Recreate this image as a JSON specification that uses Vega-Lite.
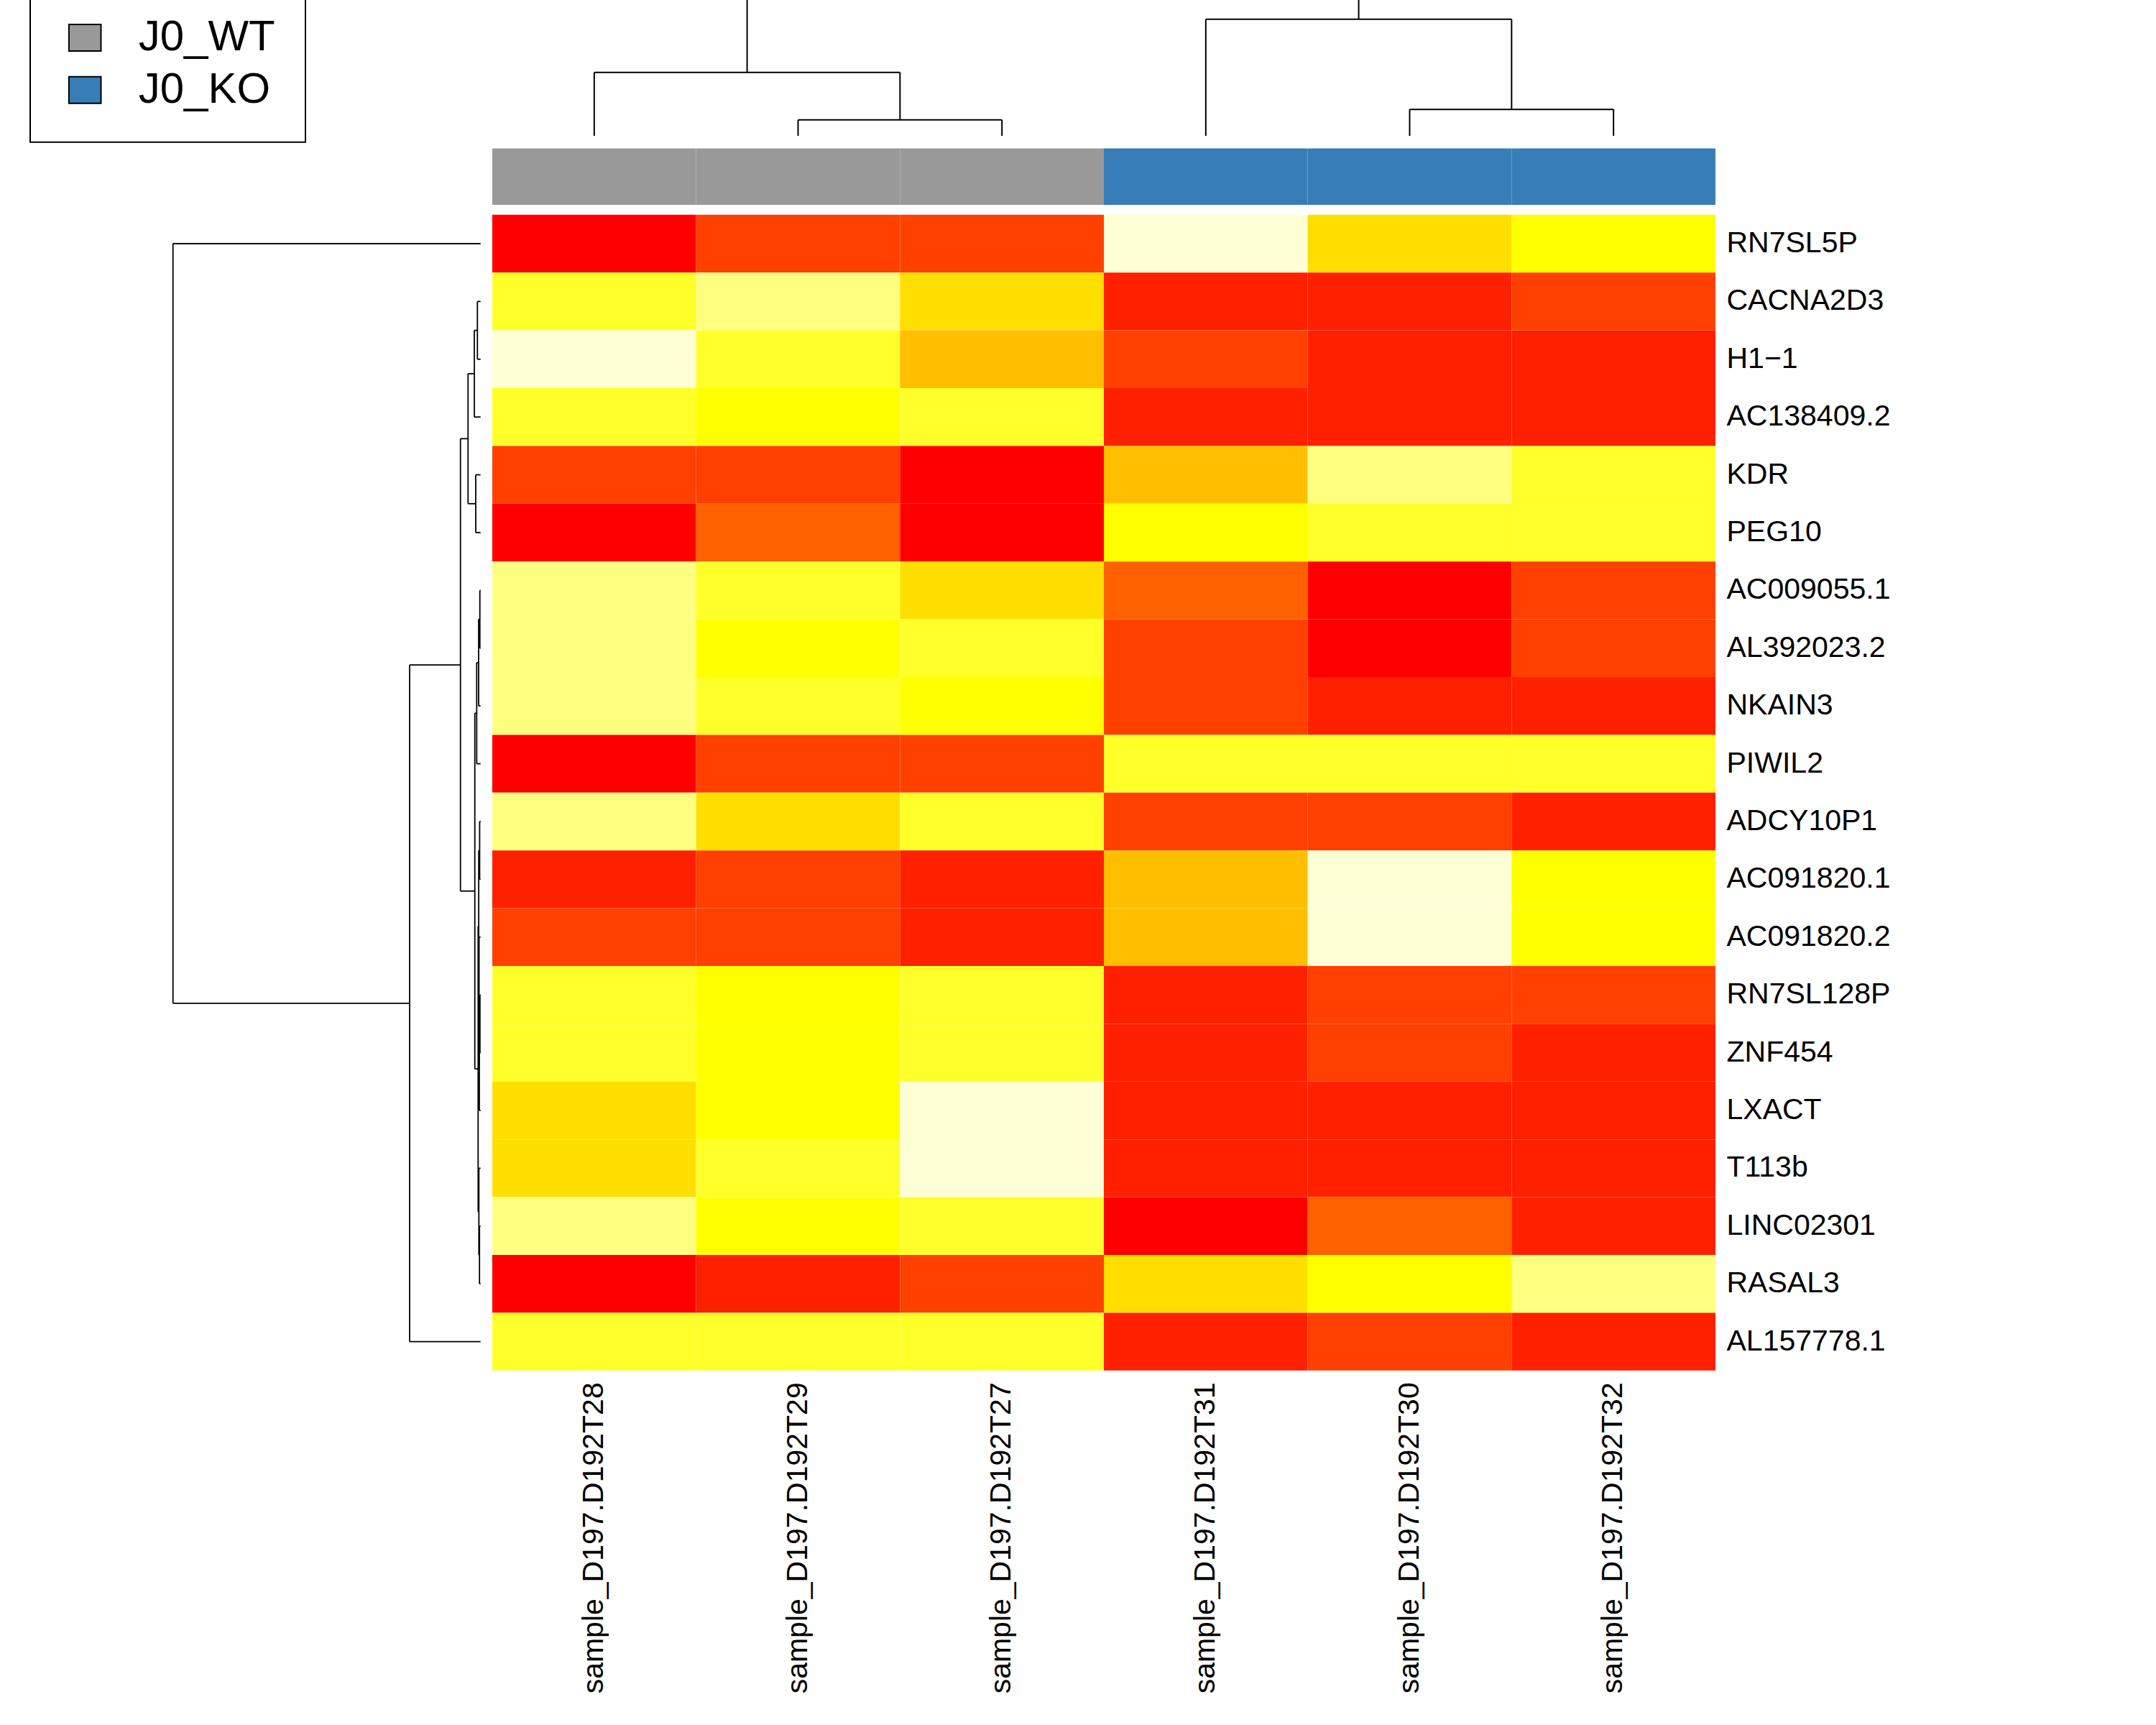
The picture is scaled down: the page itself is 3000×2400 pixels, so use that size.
{
"$schema": "https://vega.github.io/schema/vega-lite/v6.json",
"background": "white",
"padding": {"top": -21, "left": 0, "right": 0, "bottom": 0},
"config": {"view": {"stroke": null}, "font": "Liberation Sans"},
"columns": 2,
"align": "each",
"bounds": "flush",
"spacing": {"row": 13.4, "column": 0},
"resolve": {"scale": {"color": "independent", "x": "independent", "y": "independent"}, "legend": {"color": "independent"}},
"concat": [
{"width": 1, "height": 1, "data": {"values": []}, "mark": "point"},
{
 "width": 1702, "height": 192.3,
 "data": {"values": [
  {"pos":1.75,"pos2":1.75,"h":8.83,"h2":23},
  {"pos":4.75,"pos2":4.75,"h":16.23,"h2":23},
  {"pos":1.75,"pos2":4.75,"h":23,"h2":23},
  {"pos":1,"pos2":2.5,"h":8.83,"h2":8.83},
  {"pos":1,"pos2":1,"h":0,"h2":8.83},
  {"pos":2.5,"pos2":2.5,"h":2.23,"h2":8.83},
  {"pos":2,"pos2":3,"h":2.23,"h2":2.23},
  {"pos":2,"pos2":2,"h":0,"h2":2.23},
  {"pos":3,"pos2":3,"h":0,"h2":2.23},
  {"pos":4,"pos2":5.5,"h":16.23,"h2":16.23},
  {"pos":4,"pos2":4,"h":0,"h2":16.23},
  {"pos":5.5,"pos2":5.5,"h":3.67,"h2":16.23},
  {"pos":5,"pos2":6,"h":3.67,"h2":3.67},
  {"pos":5,"pos2":5,"h":0,"h2":3.67},
  {"pos":6,"pos2":6,"h":0,"h2":3.67}
 ]},
 "mark": {"type": "rule", "clip": true, "color": "black", "strokeWidth": 2},
 "encoding": {
  "x": {"field": "pos", "type": "quantitative", "scale": {"domain": [0.5, 6.5], "nice": false, "zero": false}, "axis": null},
  "x2": {"field": "pos2"},
  "y": {"field": "h", "type": "quantitative", "scale": {"domain": [-0.33, 18.9], "nice": false, "zero": false}, "axis": null},
  "y2": {"field": "h2"}
 }
},
{"width": 1, "height": 1, "data": {"values": []}, "mark": "point"},
{
 "width": 1702, "height": 78.6,
 "data": {"values": [
  {"sample":"sample_D197.D192T28","group":"J0_WT"},
  {"sample":"sample_D197.D192T29","group":"J0_WT"},
  {"sample":"sample_D197.D192T27","group":"J0_WT"},
  {"sample":"sample_D197.D192T31","group":"J0_KO"},
  {"sample":"sample_D197.D192T30","group":"J0_KO"},
  {"sample":"sample_D197.D192T32","group":"J0_KO"}
 ]},
 "mark": {"type": "rect"},
 "encoding": {
  "x": {"field": "sample", "type": "nominal", "sort": ["sample_D197.D192T28","sample_D197.D192T29","sample_D197.D192T27","sample_D197.D192T31","sample_D197.D192T30","sample_D197.D192T32"], "scale": {"paddingInner": 0, "paddingOuter": 0}, "axis": null},
  "color": {"field": "group", "type": "nominal", "scale": {"domain": ["J0_WT","J0_KO"], "range": ["#999999","#377EB8"]},
   "legend": {"orient": "none", "legendX": -643, "legendY": -225.7, "title": null, "padding": 41.7, "strokeColor": "black",
    "symbolType": "M-1,-0.83H1V0.83H-1Z", "symbolSize": 1990, "symbolStrokeColor": "black", "symbolStrokeWidth": 2, "symbolOpacity": 1,
    "labelFontSize": 60, "labelFont": "Liberation Sans", "labelColor": "black", "labelOffset": 44.5, "rowPadding": 12.8, "symbolOffset": 4.5, "labelLimit": 1000,
    "encode": {"legend": {"update": {"strokeWidth": {"value": 2}}}}}}
 }
},
{
 "width": 685, "height": 1608,
 "data": {"values": [
  {"h":10,"h2":10,"pos":1,"pos2":14.1445},{"h":10,"h2":0,"pos":1,"pos2":1},{"h":10,"h2":2.306,"pos":14.1445,"pos2":14.1445},
  {"h":2.306,"h2":2.306,"pos":8.2891,"pos2":20},{"h":2.306,"h2":0.654,"pos":8.2891,"pos2":8.2891},{"h":2.306,"h2":0,"pos":20,"pos2":20},
  {"h":0.654,"h2":0.654,"pos":4.375,"pos2":12.2031},{"h":0.654,"h2":0.407,"pos":4.375,"pos2":4.375},{"h":0.654,"h2":0.187,"pos":12.2031,"pos2":12.2031},
  {"h":0.407,"h2":0.407,"pos":3.25,"pos2":5.5},{"h":0.407,"h2":0.203,"pos":3.25,"pos2":3.25},{"h":0.407,"h2":0.157,"pos":5.5,"pos2":5.5},
  {"h":0.203,"h2":0.203,"pos":2.5,"pos2":4},{"h":0.203,"h2":0.103,"pos":2.5,"pos2":2.5},{"h":0.203,"h2":0,"pos":4,"pos2":4},
  {"h":0.103,"h2":0.103,"pos":2,"pos2":3},{"h":0.103,"h2":0,"pos":2,"pos2":2},{"h":0.103,"h2":0,"pos":3,"pos2":3},
  {"h":0.157,"h2":0.157,"pos":5,"pos2":6},{"h":0.157,"h2":0,"pos":5,"pos2":5},{"h":0.157,"h2":0,"pos":6,"pos2":6},
  {"h":0.187,"h2":0.187,"pos":9.125,"pos2":15.2813},{"h":0.187,"h2":0.126,"pos":9.125,"pos2":9.125},{"h":0.187,"h2":0.079,"pos":15.2813,"pos2":15.2813},
  {"h":0.126,"h2":0.126,"pos":8.25,"pos2":10},{"h":0.126,"h2":0.063,"pos":8.25,"pos2":8.25},{"h":0.126,"h2":0,"pos":10,"pos2":10},
  {"h":0.063,"h2":0.063,"pos":7.5,"pos2":9},{"h":0.063,"h2":0.023,"pos":7.5,"pos2":7.5},{"h":0.063,"h2":0,"pos":9,"pos2":9},
  {"h":0.023,"h2":0.023,"pos":7,"pos2":8},{"h":0.023,"h2":0,"pos":7,"pos2":7},{"h":0.023,"h2":0,"pos":8,"pos2":8},
  {"h":0.079,"h2":0.079,"pos":12.8125,"pos2":17.75},{"h":0.079,"h2":0.06,"pos":12.8125,"pos2":12.8125},{"h":0.079,"h2":0.055,"pos":17.75,"pos2":17.75},
  {"h":0.06,"h2":0.06,"pos":11.5,"pos2":14.125},{"h":0.06,"h2":0.03,"pos":11.5,"pos2":11.5},{"h":0.06,"h2":0.05,"pos":14.125,"pos2":14.125},
  {"h":0.03,"h2":0.03,"pos":11,"pos2":12},{"h":0.03,"h2":0,"pos":11,"pos2":11},{"h":0.03,"h2":0,"pos":12,"pos2":12},
  {"h":0.05,"h2":0.05,"pos":13,"pos2":15.25},{"h":0.05,"h2":0,"pos":13,"pos2":13},{"h":0.05,"h2":0.04,"pos":15.25,"pos2":15.25},
  {"h":0.04,"h2":0.04,"pos":14.5,"pos2":16},{"h":0.04,"h2":0.02,"pos":14.5,"pos2":14.5},{"h":0.04,"h2":0,"pos":16,"pos2":16},
  {"h":0.02,"h2":0.02,"pos":14,"pos2":15},{"h":0.02,"h2":0,"pos":14,"pos2":14},{"h":0.02,"h2":0,"pos":15,"pos2":15},
  {"h":0.055,"h2":0.055,"pos":17,"pos2":18.5},{"h":0.055,"h2":0,"pos":17,"pos2":17},{"h":0.055,"h2":0.035,"pos":18.5,"pos2":18.5},
  {"h":0.035,"h2":0.035,"pos":18,"pos2":19},{"h":0.035,"h2":0,"pos":18,"pos2":18},{"h":0.035,"h2":0,"pos":19,"pos2":19}
 ]},
 "mark": {"type": "rule", "color": "black", "strokeWidth": 1.8},
 "encoding": {
  "x": {"field": "h", "type": "quantitative", "scale": {"domain": [-0.381, 15.624], "reverse": true, "nice": false, "zero": false}, "axis": null},
  "x2": {"field": "h2"},
  "y": {"field": "pos", "type": "quantitative", "scale": {"domain": [0.5, 20.5], "reverse": true, "nice": false, "zero": false}, "axis": null},
  "y2": {"field": "pos2"}
 }
},
{
 "width": 1702, "height": 1608,
 "data": {"values": [
  {"gene":"RN7SL5P","sample":"sample_D197.D192T28","level":1},{"gene":"RN7SL5P","sample":"sample_D197.D192T29","level":3},{"gene":"RN7SL5P","sample":"sample_D197.D192T27","level":3},{"gene":"RN7SL5P","sample":"sample_D197.D192T31","level":12},{"gene":"RN7SL5P","sample":"sample_D197.D192T30","level":8},{"gene":"RN7SL5P","sample":"sample_D197.D192T32","level":9},
  {"gene":"CACNA2D3","sample":"sample_D197.D192T28","level":10},{"gene":"CACNA2D3","sample":"sample_D197.D192T29","level":11},{"gene":"CACNA2D3","sample":"sample_D197.D192T27","level":8},{"gene":"CACNA2D3","sample":"sample_D197.D192T31","level":2},{"gene":"CACNA2D3","sample":"sample_D197.D192T30","level":2},{"gene":"CACNA2D3","sample":"sample_D197.D192T32","level":3},
  {"gene":"H1−1","sample":"sample_D197.D192T28","level":12},{"gene":"H1−1","sample":"sample_D197.D192T29","level":10},{"gene":"H1−1","sample":"sample_D197.D192T27","level":7},{"gene":"H1−1","sample":"sample_D197.D192T31","level":3},{"gene":"H1−1","sample":"sample_D197.D192T30","level":2},{"gene":"H1−1","sample":"sample_D197.D192T32","level":2},
  {"gene":"AC138409.2","sample":"sample_D197.D192T28","level":10},{"gene":"AC138409.2","sample":"sample_D197.D192T29","level":9},{"gene":"AC138409.2","sample":"sample_D197.D192T27","level":10},{"gene":"AC138409.2","sample":"sample_D197.D192T31","level":2},{"gene":"AC138409.2","sample":"sample_D197.D192T30","level":2},{"gene":"AC138409.2","sample":"sample_D197.D192T32","level":2},
  {"gene":"KDR","sample":"sample_D197.D192T28","level":3},{"gene":"KDR","sample":"sample_D197.D192T29","level":3},{"gene":"KDR","sample":"sample_D197.D192T27","level":1},{"gene":"KDR","sample":"sample_D197.D192T31","level":7},{"gene":"KDR","sample":"sample_D197.D192T30","level":11},{"gene":"KDR","sample":"sample_D197.D192T32","level":10},
  {"gene":"PEG10","sample":"sample_D197.D192T28","level":1},{"gene":"PEG10","sample":"sample_D197.D192T29","level":4},{"gene":"PEG10","sample":"sample_D197.D192T27","level":1},{"gene":"PEG10","sample":"sample_D197.D192T31","level":9},{"gene":"PEG10","sample":"sample_D197.D192T30","level":10},{"gene":"PEG10","sample":"sample_D197.D192T32","level":10},
  {"gene":"AC009055.1","sample":"sample_D197.D192T28","level":11},{"gene":"AC009055.1","sample":"sample_D197.D192T29","level":10},{"gene":"AC009055.1","sample":"sample_D197.D192T27","level":8},{"gene":"AC009055.1","sample":"sample_D197.D192T31","level":4},{"gene":"AC009055.1","sample":"sample_D197.D192T30","level":1},{"gene":"AC009055.1","sample":"sample_D197.D192T32","level":3},
  {"gene":"AL392023.2","sample":"sample_D197.D192T28","level":11},{"gene":"AL392023.2","sample":"sample_D197.D192T29","level":9},{"gene":"AL392023.2","sample":"sample_D197.D192T27","level":10},{"gene":"AL392023.2","sample":"sample_D197.D192T31","level":3},{"gene":"AL392023.2","sample":"sample_D197.D192T30","level":1},{"gene":"AL392023.2","sample":"sample_D197.D192T32","level":3},
  {"gene":"NKAIN3","sample":"sample_D197.D192T28","level":11},{"gene":"NKAIN3","sample":"sample_D197.D192T29","level":10},{"gene":"NKAIN3","sample":"sample_D197.D192T27","level":9},{"gene":"NKAIN3","sample":"sample_D197.D192T31","level":3},{"gene":"NKAIN3","sample":"sample_D197.D192T30","level":2},{"gene":"NKAIN3","sample":"sample_D197.D192T32","level":2},
  {"gene":"PIWIL2","sample":"sample_D197.D192T28","level":1},{"gene":"PIWIL2","sample":"sample_D197.D192T29","level":3},{"gene":"PIWIL2","sample":"sample_D197.D192T27","level":3},{"gene":"PIWIL2","sample":"sample_D197.D192T31","level":10},{"gene":"PIWIL2","sample":"sample_D197.D192T30","level":10},{"gene":"PIWIL2","sample":"sample_D197.D192T32","level":10},
  {"gene":"ADCY10P1","sample":"sample_D197.D192T28","level":11},{"gene":"ADCY10P1","sample":"sample_D197.D192T29","level":8},{"gene":"ADCY10P1","sample":"sample_D197.D192T27","level":10},{"gene":"ADCY10P1","sample":"sample_D197.D192T31","level":3},{"gene":"ADCY10P1","sample":"sample_D197.D192T30","level":3},{"gene":"ADCY10P1","sample":"sample_D197.D192T32","level":2},
  {"gene":"AC091820.1","sample":"sample_D197.D192T28","level":2},{"gene":"AC091820.1","sample":"sample_D197.D192T29","level":3},{"gene":"AC091820.1","sample":"sample_D197.D192T27","level":2},{"gene":"AC091820.1","sample":"sample_D197.D192T31","level":7},{"gene":"AC091820.1","sample":"sample_D197.D192T30","level":12},{"gene":"AC091820.1","sample":"sample_D197.D192T32","level":9},
  {"gene":"AC091820.2","sample":"sample_D197.D192T28","level":3},{"gene":"AC091820.2","sample":"sample_D197.D192T29","level":3},{"gene":"AC091820.2","sample":"sample_D197.D192T27","level":2},{"gene":"AC091820.2","sample":"sample_D197.D192T31","level":7},{"gene":"AC091820.2","sample":"sample_D197.D192T30","level":12},{"gene":"AC091820.2","sample":"sample_D197.D192T32","level":9},
  {"gene":"RN7SL128P","sample":"sample_D197.D192T28","level":10},{"gene":"RN7SL128P","sample":"sample_D197.D192T29","level":9},{"gene":"RN7SL128P","sample":"sample_D197.D192T27","level":10},{"gene":"RN7SL128P","sample":"sample_D197.D192T31","level":2},{"gene":"RN7SL128P","sample":"sample_D197.D192T30","level":3},{"gene":"RN7SL128P","sample":"sample_D197.D192T32","level":3},
  {"gene":"ZNF454","sample":"sample_D197.D192T28","level":10},{"gene":"ZNF454","sample":"sample_D197.D192T29","level":9},{"gene":"ZNF454","sample":"sample_D197.D192T27","level":10},{"gene":"ZNF454","sample":"sample_D197.D192T31","level":2},{"gene":"ZNF454","sample":"sample_D197.D192T30","level":3},{"gene":"ZNF454","sample":"sample_D197.D192T32","level":2},
  {"gene":"LXACT","sample":"sample_D197.D192T28","level":8},{"gene":"LXACT","sample":"sample_D197.D192T29","level":9},{"gene":"LXACT","sample":"sample_D197.D192T27","level":12},{"gene":"LXACT","sample":"sample_D197.D192T31","level":2},{"gene":"LXACT","sample":"sample_D197.D192T30","level":2},{"gene":"LXACT","sample":"sample_D197.D192T32","level":2},
  {"gene":"T113b","sample":"sample_D197.D192T28","level":8},{"gene":"T113b","sample":"sample_D197.D192T29","level":10},{"gene":"T113b","sample":"sample_D197.D192T27","level":12},{"gene":"T113b","sample":"sample_D197.D192T31","level":2},{"gene":"T113b","sample":"sample_D197.D192T30","level":2},{"gene":"T113b","sample":"sample_D197.D192T32","level":2},
  {"gene":"LINC02301","sample":"sample_D197.D192T28","level":11},{"gene":"LINC02301","sample":"sample_D197.D192T29","level":9},{"gene":"LINC02301","sample":"sample_D197.D192T27","level":10},{"gene":"LINC02301","sample":"sample_D197.D192T31","level":1},{"gene":"LINC02301","sample":"sample_D197.D192T30","level":4},{"gene":"LINC02301","sample":"sample_D197.D192T32","level":2},
  {"gene":"RASAL3","sample":"sample_D197.D192T28","level":1},{"gene":"RASAL3","sample":"sample_D197.D192T29","level":2},{"gene":"RASAL3","sample":"sample_D197.D192T27","level":3},{"gene":"RASAL3","sample":"sample_D197.D192T31","level":8},{"gene":"RASAL3","sample":"sample_D197.D192T30","level":9},{"gene":"RASAL3","sample":"sample_D197.D192T32","level":11},
  {"gene":"AL157778.1","sample":"sample_D197.D192T28","level":10},{"gene":"AL157778.1","sample":"sample_D197.D192T29","level":10},{"gene":"AL157778.1","sample":"sample_D197.D192T27","level":10},{"gene":"AL157778.1","sample":"sample_D197.D192T31","level":2},{"gene":"AL157778.1","sample":"sample_D197.D192T30","level":3},{"gene":"AL157778.1","sample":"sample_D197.D192T32","level":2}
 ]},
 "mark": {"type": "rect"},
 "encoding": {
  "x": {"field": "sample", "type": "nominal", "sort": ["sample_D197.D192T28","sample_D197.D192T29","sample_D197.D192T27","sample_D197.D192T31","sample_D197.D192T30","sample_D197.D192T32"], "scale": {"paddingInner": 0, "paddingOuter": 0},
   "axis": {"title": null, "orient": "bottom", "labelAngle": 270, "labelAlign": "right", "labelBaseline": "middle", "labelFontSize": 41, "labelFont": "Liberation Sans", "labelColor": "black", "labelPadding": 16, "ticks": false, "domain": false, "labelLimit": 1000, "labelOverlap": false}},
  "y": {"field": "gene", "type": "nominal", "sort": ["RN7SL5P","CACNA2D3","H1−1","AC138409.2","KDR","PEG10","AC009055.1","AL392023.2","NKAIN3","PIWIL2","ADCY10P1","AC091820.1","AC091820.2","RN7SL128P","ZNF454","LXACT","T113b","LINC02301","RASAL3","AL157778.1"], "scale": {"paddingInner": 0, "paddingOuter": 0},
   "axis": {"title": null, "orient": "right", "labelAlign": "left", "labelBaseline": "middle", "labelFontSize": 41, "labelFont": "Liberation Sans", "labelColor": "black", "labelPadding": 15, "ticks": false, "domain": false, "labelLimit": 1000, "labelOverlap": false}},
  "color": {"field": "level", "type": "ordinal", "scale": {"domain": [1,2,3,4,5,6,7,8,9,10,11,12], "range": ["#FF0000","#FF2000","#FF4000","#FF6000","#FF8000","#FF9F00","#FFBF00","#FFDF00","#FFFF00","#FFFF2A","#FFFF80","#FFFFD5"]}, "legend": null}
 }
}
]
}
